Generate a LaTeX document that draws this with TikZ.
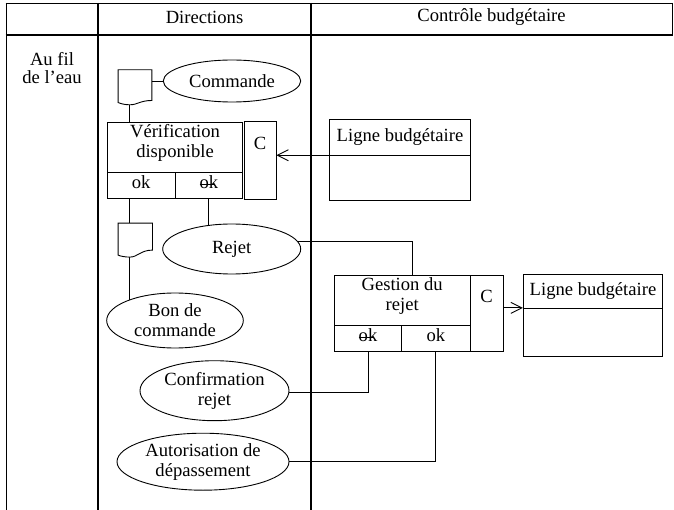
\documentclass[tikz,border=0pt]{standalone}
\usepackage{fontspec}
\setmainfont{Liberation Serif}
\usetikzlibrary{arrows.meta,calc,shapes.geometric,backgrounds}
\newcommand\okstk{\rlap{\rule[0.2em]{0.78em}{0.9pt}}ok}
\begin{document}
\begin{tikzpicture}[x=1pt,y=-1pt,
  font=\fontsize{18.6}{20}\selectfont,
  ln/.style={line width=0.9pt},
  cell/.style={draw,ln,rectangle,fill=white,inner sep=0pt},
  okcell/.style={cell,text height=12.7pt,text depth=7pt},
  oval/.style={draw,ln,ellipse,fill=white,inner sep=0pt,align=center},
  lbl/.style={inner sep=0pt,align=center},
  docn/.style={rectangle,inner sep=0pt},
  flow/.style={ln},
  arr/.style={ln,-{Straight Barb[length=11pt,width=11pt]}},
  lane/.style={line width=2.2pt},
  hrule/.style={line width=1.2pt},
]
\useasboundingbox (0,0) rectangle (674,510);
% frame
\draw[hrule] (5.5,3.5) -- (673,3.5);
\draw[hrule] (5.5,35) -- (673,35);
\draw[line width=1pt] (6,3) -- (6,510);
\draw[line width=1pt] (672.5,3) -- (672.5,35.5);
\draw[lane] (97.7,3) -- (97.7,510);
\draw[lane] (310.7,3) -- (310.7,510);

\node[lbl] (hd1) at (204.5,17.5) {Directions};
\node[lbl] (hd2) at (491.5,17.5) {Contrôle budgétaire};
\node[lbl,font=\fontsize{18.6}{18}\selectfont] (lane1) at (52,68) {Au fil\\de l’eau};

% document 1
\node[docn,minimum width=33.4pt,minimum height=32pt] (d1) at (135,86) {};
\draw[ln,fill=white] (d1.north west) -- (d1.north east) -- ++(0,30.7)
  .. controls +(-12,0) and +(8,0) .. ($(d1.north west)+(11.7,35)$) coordinate (d1low)
  .. controls +(-5,0) and +(2,1) .. ($(d1.north west)+(0,32.7)$) -- cycle;

\node[oval,minimum width=137.4pt,minimum height=42pt] (cmd) at (232,81) {Commande};

% Verification
\node[cell,minimum width=135.4pt,minimum height=50.4pt] (vt) at (175,147.5) {};
\node[lbl] (vtx) at (175,142.7) {Vérification\\disponible};
\node[okcell,minimum width=67.7pt,minimum height=25.6pt] (ok1) at (141.15,185.5) {ok};
\node[okcell,minimum width=67.7pt,minimum height=25.6pt] (ok2) at (208.85,185.5) {\okstk};
\node[cell,minimum width=32pt,minimum height=77.6pt] (cb) at (260,160.5) {};
\node[lbl] (cbx) at (260,143.3) {C};

% Ligne 1
\node[cell,minimum width=141.4pt,minimum height=36.4pt] (lt1) at (400,137.5) {Ligne budgétaire};
\node[cell,minimum width=141.4pt,minimum height=45pt] (lb1) at (400,178.2) {};
\draw[arr] (lb1.north west) -- (lb1.north west -| cb.east);

% document 2
\node[docn,minimum width=34pt,minimum height=32pt] (d2) at (135.3,239.3) {};
\draw[ln,fill=white] (d2.north west) -- (d2.north east) -- ++(0,27)
  .. controls +(-12,0) and +(8,0) .. ($(d2.north west)+(11.7,34)$) coordinate (d2low)
  .. controls +(-5,0) and +(2,1) .. ($(d2.north west)+(0,32)$) -- cycle;

\node[oval,minimum width=138pt,minimum height=50pt] (rej) at (231.7,249) {Rejet};
\node[oval,minimum width=136.6pt,minimum height=55pt] (bon) at (175,320.5) {Bon de\\commande};

% Gestion
\node[cell,minimum width=135.7pt,minimum height=50.7pt] (gt) at (402.15,300.35) {};
\node[lbl] (gtx) at (402.15,296.5) {Gestion du\\rejet};
\node[okcell,minimum width=67.4pt,minimum height=25.3pt] (ok3) at (368,338.35) {\okstk};
\node[okcell,minimum width=68.3pt,minimum height=25.3pt] (ok4) at (435.85,338.35) {ok};
\node[cell,minimum width=33.3pt,minimum height=76.7pt] (cg) at (486.65,313.35) {};
\node[lbl] (cgx) at (486.65,296) {C};

% Ligne 2
\node[cell,minimum width=139.4pt,minimum height=34pt] (lt2) at (593,291.3) {Ligne budgétaire};
\node[cell,minimum width=139.4pt,minimum height=47.7pt] (lb2) at (593,332.15) {};
\draw[arr] (lb2.north west -| cg.east) -- (lb2.north west);

\node[oval,minimum width=149pt,minimum height=60pt] (conf) at (214.5,390.7) {Confirmation\\rejet};
\node[oval,minimum width=172pt,minimum height=57pt] (aut) at (203,461.7) {Autorisation de\\dépassement};

\begin{scope}[on background layer]
\draw[flow] (cmd.center) -- (cmd.center -| d1.center);
\draw[flow] (d1low) -- (d1low |- vt.center);
\draw[flow] (d1low |- ok1.center) -- (d1low |- d2.center);
\draw[flow] (d2low) -- (d2low |- bon.center);
\draw[flow] (ok2.center) -- (ok2.center |- rej.center);
\draw[flow] ($(rej.center)+(0,-7.3)$) -| ($(gt.center)+(10.5,0)$);
\draw[flow] (ok3.center) |- ($(conf.center)+(0,2)$);
\draw[flow] (ok4.center) |- (aut.center);
\end{scope}
\end{tikzpicture}
\end{document}
